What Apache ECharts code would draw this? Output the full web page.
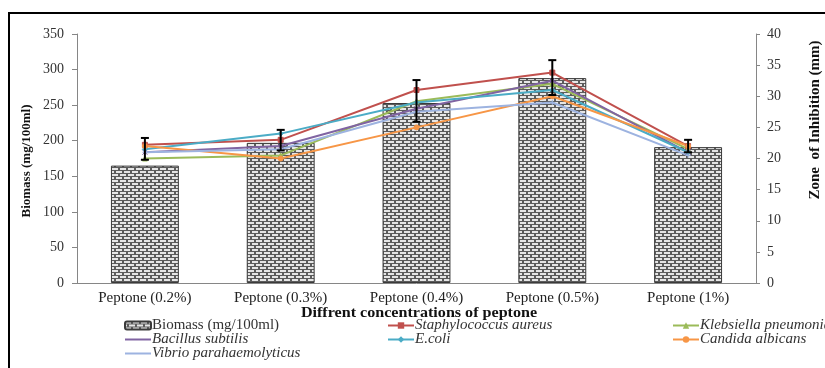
<!DOCTYPE html>
<html><head><meta charset="utf-8">
<script src="https://cdn.jsdelivr.net/npm/echarts@6/dist/echarts.min.js"></script>
<style>html,body{margin:0;padding:0;background:#fff}#c{width:825px;height:368px}</style>
</head><body><div id="c"></div>
<script>
const categories = ['Peptone (0.2%)','Peptone (0.3%)','Peptone (0.4%)','Peptone (0.5%)','Peptone (1%)'];
const biomass = [165, 197, 253, 288, 191];
const staph = [22.2, 23, 31, 33.8, 22];
const kleb = [20, 20.5, 29.2, 32, 21.5];
const bacillus = [21, 22, 28, 32.5, 21];
const ecoli = [21.5, 24, 29, 31, 21];
const candida = [22, 20, 25, 30, 22];
const vibrio = [21, 21.5, 27.5, 29, 20.5];
const errLow = [19.8, 21.3, 25.9, 30.2, 21];
const errHigh = [23.3, 24.6, 32.6, 35.8, 23];
const leftTicks = [0, 350, 50];
const rightTicks = [0, 40, 5];

const FONT = '"Liberation Serif", "Times New Roman", serif';

function brick() {
  const c = document.createElement('canvas');
  c.width = 8; c.height = 6;
  const g = c.getContext('2d');
  g.fillStyle = '#5c5c5c'; g.fillRect(0,0,8,6);
  g.fillStyle = '#e6e6e6';
  g.fillRect(0,0,6,2);
  g.fillRect(4,3,4,2); g.fillRect(0,3,2,2);
  return c;
}
const pat = {image: brick(), repeat: 'repeat'};

const chart = echarts.init(document.getElementById('c'));
const lineSeries = [
  ['Staphylococcus aureus', staph, '#C0504D', 'rect'],
  ['Klebsiella pneumoniae', kleb, '#9BBB59', 'triangle'],
  ['Bacillus subtilis', bacillus, '#8064A2', 'path://M0,0L10,10M10,0L0,10'],
  ['E.coli', ecoli, '#4BACC6', 'diamond'],
  ['Candida albicans', candida, '#F79646', 'circle'],
  ['Vibrio parahaemolyticus', vibrio, '#9DB3E0', 'path://M5,0L5,10M0,5L10,5']
].map(([n, d, c, s]) => ({
  name: n, type: 'line', yAxisIndex: 1, data: d,
  symbol: s, symbolSize: 5, showSymbol: true,
  itemStyle: {color: c, borderColor: c},
  lineStyle: {color: c, width: 2},
  z: 3
}));

const rich = {
  n: {fontFamily: FONT, fontSize: 15, color: '#333', lineHeight: 13},
  i: {fontFamily: FONT, fontSize: 15, fontStyle: 'italic', color: '#333', lineHeight: 13}
};
const fmt = name => name.startsWith('Biomass') ? '{n|' + name + '}' : '{i|' + name + '}';
function legend(left, names) {
  return {
    orient: 'vertical', left: left, top: 318, itemGap: -1, itemWidth: 26, itemHeight: 8,
    padding: 0, data: names, formatter: fmt, textStyle: {rich: rich, padding: [0,0,0,-4]},
    selectedMode: false
  };
}

chart.setOption({
  animation: false,
  grid: {left: 77, right: 69, top: 34, bottom: 85},
  legend: [
    legend(124, ['Biomass (mg/100ml)', 'Bacillus subtilis', 'Vibrio parahaemolyticus']),
    legend(387, ['Staphylococcus aureus', 'E.coli']),
    legend(672, ['Klebsiella pneumoniae', 'Candida albicans'])
  ],
  xAxis: {
    type: 'category', data: categories,
    axisLine: {lineStyle: {color: '#868686'}},
    axisTick: {show: false},
    axisLabel: {fontFamily: FONT, fontSize: 15, color: '#222', margin: 8}
  },
  yAxis: [{
    type: 'value', min: leftTicks[0], max: leftTicks[1], interval: leftTicks[2],
    splitLine: {show: false},
    axisLine: {show: true, lineStyle: {color: '#868686'}},
    axisTick: {show: true, length: 5, lineStyle: {color: '#868686'}},
    axisLabel: {fontFamily: FONT, fontSize: 14, color: '#333', margin: 13}
  }, {
    type: 'value', min: rightTicks[0], max: rightTicks[1], interval: rightTicks[2],
    splitLine: {show: false},
    axisLine: {show: true, lineStyle: {color: '#868686'}},
    axisTick: {show: true, length: 4, lineStyle: {color: '#868686'}},
    axisLabel: {fontFamily: FONT, fontSize: 14, color: '#333', margin: 11}
  }],
  graphic: [
    {type: 'rect', shape: {x: 9, y: 13, width: 900, height: 400}, style: {fill: 'none', stroke: '#000', lineWidth: 2}, silent: true},
    {type: 'text', x: 27, y: 161, rotation: Math.PI/2, style: {text: 'Biomass (mg/100ml)', font: 'bold 13px ' + FONT, fill: '#111', align: 'center', verticalAlign: 'middle'}},
    {type: 'text', x: 815, y: 120, rotation: Math.PI/2, style: {text: 'Zone  of Inhibition (mm)', font: 'bold 15px ' + FONT, fill: '#111', align: 'center', verticalAlign: 'middle'}},
    {type: 'text', x: 419, y: 313, scaleX: 1.15, style: {text: 'Diffrent concentrations of peptone', font: 'bold 14px ' + FONT, fill: '#111', align: 'center', verticalAlign: 'middle'}}
  ],
  series: [{
    name: 'Biomass (mg/100ml)', type: 'bar', data: biomass, barWidth: '50%',
    itemStyle: {color: pat, borderColor: '#3a3a3a', borderWidth: 1}, z: 2
  }].concat(lineSeries).concat([{
    type: 'custom', yAxisIndex: 1, z: 5, silent: true,
    data: categories.map((c, i) => [i, errLow[i], errHigh[i]]),
    renderItem: (params, api) => {
      const lo = api.coord([api.value(0), api.value(1)]);
      const hi = api.coord([api.value(0), api.value(2)]);
      const st = {stroke: '#000', lineWidth: 2};
      return {type: 'group', children: [
        {type: 'line', shape: {x1: hi[0], y1: hi[1], x2: lo[0], y2: lo[1]}, style: st},
        {type: 'line', shape: {x1: hi[0]-4, y1: hi[1], x2: hi[0]+4, y2: hi[1]}, style: st},
        {type: 'line', shape: {x1: lo[0]-4, y1: lo[1], x2: lo[0]+4, y2: lo[1]}, style: st}
      ]};
    }
  }])
});
</script></body></html>
